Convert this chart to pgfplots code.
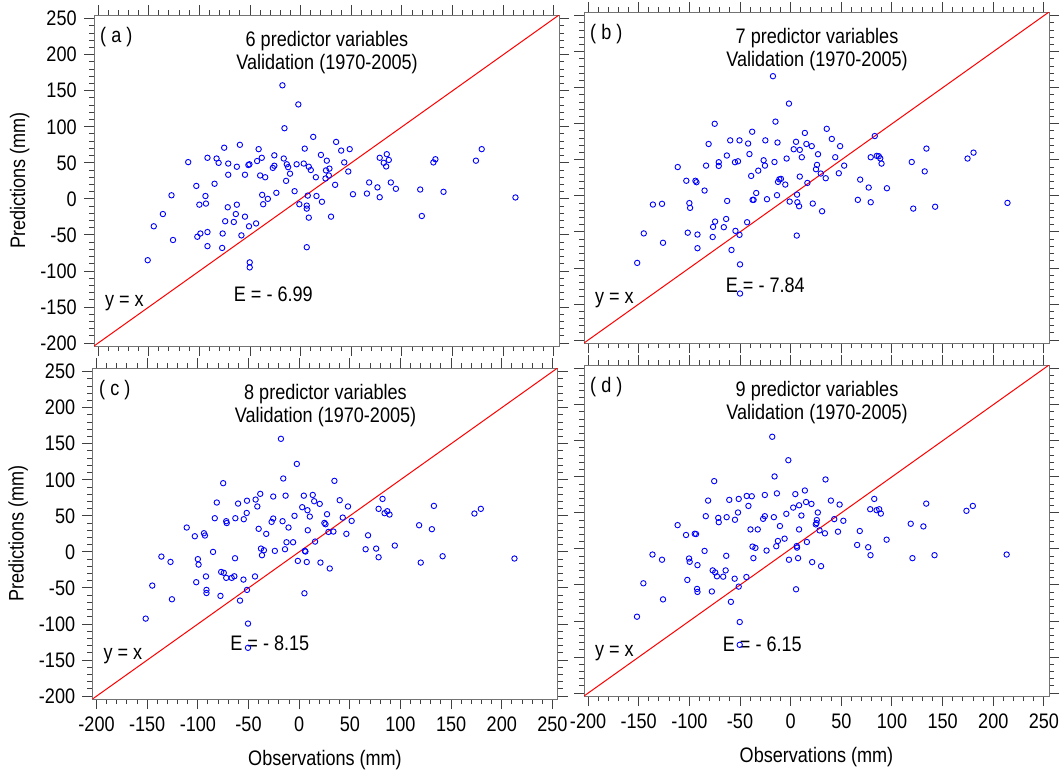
\documentclass[border=0pt]{standalone}
\usepackage{fontspec}
\setmainfont{Liberation Sans}[FakeStretch=0.86]
\usepackage{pgfplots}
\pgfplotsset{compat=1.18}

\pgfplotstableread{
x y
-151 -85
-145 -38
-136 -21
-127.5 5
-126 -57
-111 51
-103 18
-94 4
-100 -8
-93.5 -6.5
-102 -52.5
-99 -48
-92 57
-92 -46
-92 -65.5
-85 21
-83 56
-81 50
-75.5 71
-77 -48
-77.5 -68
-74.5 -31
-72 -11.6
-71.5 49
-71.5 33.5
-66 -32
-64 -21
-63 -8
-63 44.6
-60 75
-58.5 -50.6
-55 33.5
-55 -24.6
-51 -38
-51.6 47
-50.6 48
-50.3 -88
-50.3 -95
-44 -34
-43 52.5
-41.5 69
-40 32.5
-38.4 57
-38 5.6
-37 -7.4
-35 30
-32.4 0
-27.5 43
-26 46
-26 60.4
-24 8.4
-18 157.5
-16.7 56
-16 98
-14.4 25
-13.7 48
-12.4 44
-10.5 35
-6 10.7
-4 48
-2.3 131
-1.3 -7.4
3 49
4 69.7
6 -67
6 -9.3
6 -13.5
8 -26
7 4.6
8 44.6
10 40
12.4 86
15 30
15.6 4
21 -4
20 61
25.8 53
25 39.5
28.4 42
27.8 32.5
24.5 28.3
35 79
40 67
48.4 69
43 50.6
47 38
34 19.5
30 -24.6
51.6 6.5
65.4 7.4
67.6 22.8
75.8 16
78 2.3
78 57
82 50
85 62
84.4 45
87 54
89 22.8
94 14
118 13
119.6 -23.7
131 50.6
133 55
141 9.8
173 53
178.7 69
212 2
}\dataA

\pgfplotstableread{
x y
-151.5 -92.9
-145 -52
-136 -12
-127 -11
-126 -65
-111.5 40
-103 21
-100 -10
-99.3 -16.6
-101.6 -51
-94 21
-93 19
-92 -53.6
-92 -72.5
-85 7.4
-83.5 42
-81 72
-75 100
-77 -57
-74.6 -35.6
-76.6 -43
-71 46.7
-71 41.6
-66 -43.4
-63.7 -32
-62.7 -7
-63 56
-59.7 77
-58.4 -75
-54.5 -48.5
-55 46.7
-52 48
-50.5 77
-50.5 -54
-50 -95
-50 -135.4
-43 -36.5
-42 72.6
-40.7 58
-39 27.7
-38 89
-37.6 -5.5
-36.6 -5.5
-34 4
-32 35
-26.7 49.4
-25.4 42
-25 77
-23.4 -4.6
-17.5 166
-16 47
-15 103
-13.5 1
-13 74
-12.5 19.4
-11.2 23
-9.6 23.6
-5.3 15.7
-4 51.8
-1.7 128
-1 -7.9
3 64.7
5.3 75
6 -55
6.3 1.8
6.6 -8.8
8.3 -14.3
9 63.8
9 26.8
11 53.6
14 87.3
15.5 72
16.5 18
20.8 69
21.8 -10.6
27 57.8
26 43
25 37
29.7 31
31 -21.3
34.6 24.5
35.6 93
40.6 79
44 53.6
47.5 31.4
48.8 69
52.8 42
66.3 -5.5
68.6 22.6
77 11.6
79 -8.8
79 53.6
83 83
85 55.5
87 55
88.4 52
89.7 44.8
95 10.6
119.5 47
121 -17.6
132.3 34
134 65.6
142.6 -15
174.6 51.8
180.5 60
214 -9.7
}\dataB

\pgfplotstableread{
x y
-151.5 -92.5
-145 -46.7
-136 -6.5
-127 -13.9
-125.6 -65.7
-111 33.8
-103 21.7
-101.6 -42
-100 -10
-99.3 -17.6
-94 25.9
-93 22.7
-92 -34
-91.5 -52.7
-91.5 -57
-85 0
-83.3 46.7
-81.3 68.5
-77.7 -61
-77 -27.8
-75 95.3
-74.4 -29
-72 -36
-72 42.6
-71.5 40
-66.6 -36
-64 -33.8
-63.3 -8.8
-63 46.7
-60.3 67
-58.4 -67.5
-55 -38.4
-54.7 45.3
-51.8 54
-51.5 71
-51.5 -52.7
-50.5 -99.4
-50.5 -133
-43.6 -34
-43 72.6
-41.3 63
-40 32
-38.4 80.5
-37.7 4.6
-36.7 -4.6
-34.8 2.3
-32.5 25
-27.2 41.6
-25.6 46.3
-25.6 76.8
-24 1.4
-18 156.8
-16.4 42.6
-15.7 101.8
-14 3.7
-13.4 78
-12.5 13.4
-10.5 33.8
-6 13.4
-4.6 50
-2.3 122
-1.3 -12.5
3 62
4.6 78
5.2 -57.4
5.6 1.4
6.2 0.5
7.5 -14
8.2 57.8
8.5 30
10.5 49
13.4 79
14.8 70.3
20.3 66.6
15.7 14.3
21 -14.8
34.8 98.5
27.5 52.3
24.9 40.2
26 38.4
28.9 27.7
33.8 28.2
30.2 -23
40 71.7
48.2 63
43 47.6
51.8 43
46.6 25
68 23
65.6 3.7
76 4.6
78.4 -7.4
82.3 73.5
78.4 59.7
84.3 53.7
87 56.4
89.2 51.8
94.4 8.8
118.4 37
120 -14.8
131 31.5
133 63.8
141.6 -6
173 53.2
179.3 59.7
212.5 -9.2
}\dataC

\pgfplotstableread{
x y
-151.7 -94
-145.4 -47.7
-136.4 -7.8
-127 -15
-126 -70
-111.6 33
-103.3 19.3
-100.3 -13.3
-99.7 -17.9
-102 -43
-94.7 21
-93.4 20.6
-92 -22.5
-92.4 -55.5
-92 -59.6
-85 -2.8
-83.8 45.4
-81.5 67
-77.8 -59
-77 -29.8
-75.5 94
-74.5 -32.6
-72.8 -38
-71.5 43
-71 37
-66.6 -38.5
-64.2 -29.8
-63.6 -9.6
-63.2 44
-60.6 68
-59 -73.4
-55.3 -41.3
-55 40.4
-52 50.5
-51.3 69.3
-51.3 -52.3
-50.3 -101.4
-50.3 -133
-43.7 -39
-43.4 73.4
-41.7 59.6
-39.7 27
-38.4 73
-37.7 3.2
-36.8 -12.8
-34.8 1.4
-32.5 27
-27.2 41.7
-25.5 45.4
-25.5 74.8
-23.8 -2.3
-18.2 155.5
-16.6 44
-15.9 100.5
-14.2 3.7
-13.6 77
-12.6 11
-10.6 31.7
-6 14.2
-4.3 48.6
-2.3 123
-1.7 -15
2.5 57.3
4.6 76
5.3 -56
6 4
6.3 1.8
7.3 -12.8
8.3 60.5
8.3 27
10.6 46.3
14 81
15.2 65
16 9.6
20.5 62.4
21.2 -18.3
26.8 50.5
25.5 35.8
25.8 40
24.8 34
28.5 25.7
33.8 21.6
30 -23.9
34.4 96.3
39.7 67
43 41.3
48.3 61.5
46.7 23.9
52 39
65.6 5.5
68.2 24.8
76.5 2.3
78.8 -8.7
78.5 55
82.5 69.3
84.8 53.7
87.4 55
89 49
94.7 12.8
118.5 34.9
120.2 -12.8
131 31.2
133.8 62.8
142 -8.7
173.5 52.8
179.8 59.6
213.2 -7.8
}\dataD

\pgfplotsset{
  panel/.style={
    width=232.5pt, height=165.5pt, scale only axis,
    xmin=-204, xmax=255, ymin=-204, ymax=255,
    xtick={-200,-150,...,250}, ytick={-200,-150,...,250},
    minor tick num=4,
    tick align=outside,
    major tick length=5pt, minor tick length=2.5pt,
    axis line style={black!55, line width=0.5pt},
    tick style={black!75, line width=0.5pt},
    /pgf/number format/assume math mode=true,
    tick label style={font=\fontsize{10.5}{12}\selectfont},
    label style={font=\fontsize{10.5}{12}\selectfont},
    ylabel style={at={(axis description cs:-0.16,0.5)}, anchor=center},
    xlabel style={at={(axis description cs:0.5,-0.184)}, anchor=center},
  },
  pts/.style={only marks, mark=o, mark size=1.35pt, blue, mark options={line width=0.45pt}},
  diag/.style={red, line width=0.5pt},
}
\newcommand{\annot}[2]{%
  \node[inner sep=0pt, font=\fontsize{10.5}{12}\selectfont] at (axis cs:-182,224) {( #1 )};
  \node[inner sep=0pt, align=center, font=\fontsize{10.5}{11.65}\selectfont] at (axis cs:26,203) {#2 predictor variables\\Validation (1970-2005)};
  \node[inner sep=0pt, font=\fontsize{10.5}{12}\selectfont] at (axis cs:-174,-144) {y = x};
}

\begin{document}
\fontsize{10.5}{12}\selectfont
\begin{tikzpicture}
\path[use as bounding box] (0,0) rectangle (532pt,-389pt);

% (a)
\begin{axis}[panel, at={(47pt,-7.5pt)}, anchor=north west,
  xticklabels={}, ylabel={Predictions (mm)}]
\addplot[diag] coordinates {(-204,-204) (255,255)};
\addplot[pts] table[x=x,y=y] {\dataA};
\annot{a}{6}
\node[inner sep=0pt] at (axis cs:-27,-132) {E = - 6.99};
\end{axis}

% (b)
\begin{axis}[panel, at={(292pt,-6pt)}, anchor=north west,
  xticklabels={}, yticklabels={}]
\addplot[diag] coordinates {(-204,-204) (255,255)};
\addplot[pts] table[x=x,y=y] {\dataB};
\annot{b}{7}
\node[inner sep=0pt] at (axis cs:-25,-124) {E = - 7.84};
\end{axis}

% (c)
\begin{axis}[panel, at={(46.25pt,-184pt)}, anchor=north west,
  ylabel={Predictions (mm)}, xlabel={Observations (mm)}]
\addplot[diag] coordinates {(-204,-204) (255,255)};
\addplot[pts] table[x=x,y=y] {\dataC};
\annot{c}{8}
\node[inner sep=0pt] at (axis cs:-29,-127) {E = - 8.15};
\end{axis}

% (d)
\begin{axis}[panel, at={(292pt,-182.5pt)}, anchor=north west,
  yticklabels={}, xlabel={Observations (mm)}]
\addplot[diag] coordinates {(-204,-204) (255,255)};
\addplot[pts] table[x=x,y=y] {\dataD};
\annot{d}{9}
\node[inner sep=0pt] at (axis cs:-28,-132) {E = - 6.15};
\end{axis}
\end{tikzpicture}
\end{document}
